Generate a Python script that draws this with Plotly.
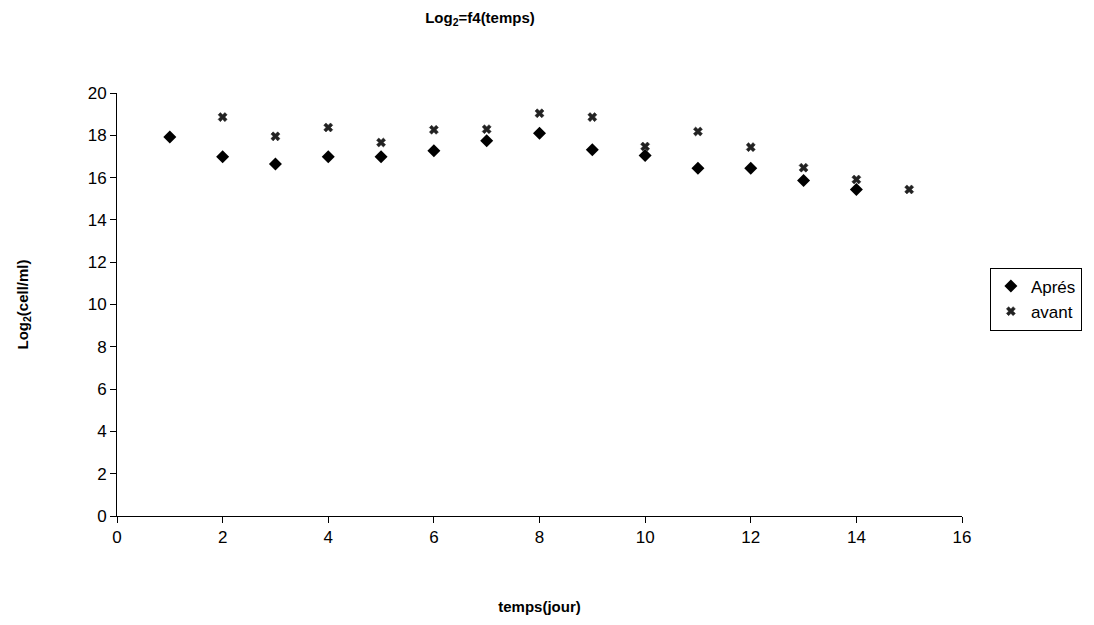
import plotly.graph_objects as go

days_apres = [1, 2, 3, 4, 5, 6, 7, 8, 9, 10, 11, 12, 13, 14]
log2_apres = [17.92, 16.98, 16.64, 16.98, 16.98, 17.27, 17.74, 18.10, 17.32, 17.04, 16.44, 16.44, 15.86, 15.44]

days_avant = [2, 3, 4, 5, 6, 7, 8, 9, 10, 11, 12, 13, 14, 15]
log2_avant = [18.86, 17.95, 18.37, 17.66, 18.26, 18.29, 19.04, 18.86, 17.47, 18.18, 17.44, 16.47, 15.91, 15.44]

x_ticks = [0, 2, 4, 6, 8, 10, 12, 14, 16]
y_ticks = [0, 2, 4, 6, 8, 10, 12, 14, 16, 18, 20]

FONT = "Liberation Sans, Arial, sans-serif"

fig = go.Figure()
fig.add_trace(go.Scatter(
    x=days_apres, y=log2_apres, mode="markers", name="Aprés",
    marker=dict(symbol="diamond", size=10, color="black"),
))
fig.add_trace(go.Scatter(
    x=days_avant, y=log2_avant, mode="markers", name="avant",
    marker=dict(symbol="x", size=8, color="#222222", line=dict(width=0.5, color="#222222")),
))

fig.update_layout(
    width=1094, height=625,
    margin=dict(l=117, r=132, t=93, b=107),
    paper_bgcolor="white", plot_bgcolor="white",
    font=dict(family=FONT, size=17, color="black"),
    title=dict(text="<b>Log<sub>2</sub>=f4(temps)</b>", x=480/1094, xanchor="center",
               y=1 - 18/625, yanchor="middle", font=dict(size=15)),
    showlegend=True,
    legend=dict(x=1.033, y=0.513, xanchor="left", yanchor="middle",
                bordercolor="black", borderwidth=1, bgcolor="white",
                font=dict(size=17), itemwidth=30, tracegroupgap=0),
)
fig.update_xaxes(
    range=[0, 16], tickvals=x_ticks, showgrid=False, zeroline=False,
    showline=True, linecolor="black", linewidth=1,
    ticks="outside", ticklen=6, tickcolor="black",
    title=dict(text="<b>temps(jour)</b>", standoff=55, font=dict(size=15)),
)
fig.update_yaxes(
    range=[0, 20], tickvals=y_ticks, showgrid=False, zeroline=False,
    showline=True, linecolor="black", linewidth=1,
    ticks="outside", ticklen=6, tickcolor="black",
    title=dict(text="<b>Log<sub>2</sub>(cell/ml)</b>", standoff=55, font=dict(size=15)),
)

fig.write_html("out.html")
